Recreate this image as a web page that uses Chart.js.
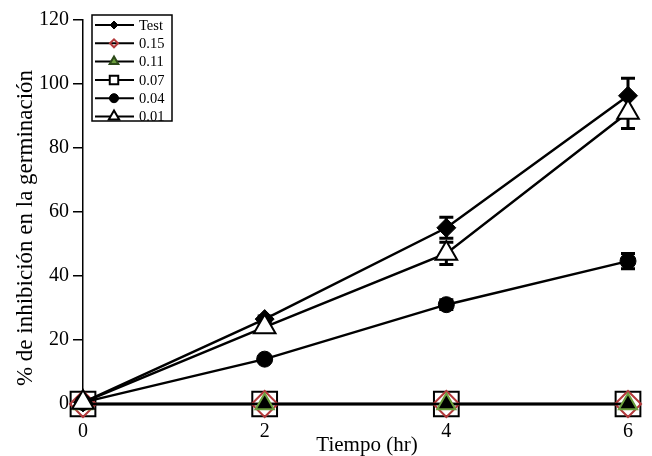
<!DOCTYPE html>
<html>
<head>
<meta charset="utf-8">
<script src="https://cdn.jsdelivr.net/npm/chart.js@4.4.1/dist/chart.umd.min.js"></script>
<style>
  body { margin: 0; background: #fff; }
  #wrap { width: 652px; height: 456px; }
</style>
</head>
<body>
<div id="wrap"><canvas id="chart"></canvas></div>
<script>
// data
const times = [0, 2, 4, 6];
const labels = ['Test', '0.15', '0.11', '0.07', '0.04', '0.01'];
const testVals = [0.5, 26.5, 55, 96.2];
const testErr = [0, 1, 3.3, 5.5];
const c015Vals = [0, 0, 0, 0];
const c011Vals = [0, 0, 0, 0];
const c007Vals = [0, 0, 0, 0];
const c004Vals = [0.5, 14, 31, 44.6];
const c004Err = [0, 0.8, 1.5, 2.4];
const c001Vals = [0.5, 24, 47, 91];
const c001Err = [0, 1, 3.5, 5];
const yTicks = [0, 20, 40, 60, 80, 100, 120];
const xTitle = 'Tiempo (hr)';
const yTitle = '% de inhibición en la germinación';

const RED = '#b3393b';
const GREEN = '#6c9f3d';
const FONT = 'Liberation Serif';

function pts(vals) {
  return times.map((t, i) => ({ x: t, y: vals[i] }));
}

// marker styles, used both for the plot and the legend
const styles = [
  { style: 'rectRot', r: 9.5, lr: 4, fill: '#000', stroke: '#000', bw: 1 },
  { style: 'rectRot', r: 13, lr: 4, fill: 'rgba(0,0,0,0)', stroke: RED, bw: 2 },
  { style: 'triangle', r: 10.5, lr: 5, fill: '#000', stroke: GREEN, bw: 2, lfill: GREEN, lstroke: '#2d4a1a' },
  { style: 'rect', r: 17.5, lr: 6, fill: '#fff', stroke: '#000', bw: 2 },
  { style: 'circle', r: 8, lr: 4.5, fill: '#000', stroke: '#000', bw: 1 },
  { style: 'triangle', r: 12.5, lr: 6, fill: '#fff', stroke: '#000', bw: 2 }
];
const series = [testVals, c015Vals, c011Vals, c007Vals, c004Vals, c001Vals];
const errs = [testErr, null, null, null, c004Err, c001Err];
const orders = [1, 4, 3, 5, 2, 0];

const datasets = series.map((vals, i) => ({
  label: labels[i],
  data: pts(vals),
  errors: errs[i],
  order: orders[i],
  borderColor: '#000',
  borderWidth: 2.5,
  pointStyle: styles[i].style,
  pointRadius: styles[i].r,
  pointBackgroundColor: styles[i].fill,
  pointBorderColor: styles[i].stroke,
  pointBorderWidth: styles[i].bw,
  tension: 0,
  clip: false
}));

const errorBars = {
  id: 'errorBars',
  beforeDatasetsDraw(chart) {
    const ctx = chart.ctx;
    const yScale = chart.scales.y;
    ctx.save();
    ctx.strokeStyle = '#000';
    ctx.lineWidth = 3;
    chart.data.datasets.forEach((ds, di) => {
      if (!ds.errors) return;
      const meta = chart.getDatasetMeta(di);
      meta.data.forEach((p, i) => {
        const e = ds.errors[i];
        if (!e) return;
        const v = ds.data[i].y;
        const top = yScale.getPixelForValue(v + e);
        const bot = yScale.getPixelForValue(v - e);
        ctx.beginPath();
        ctx.moveTo(p.x, top); ctx.lineTo(p.x, bot);
        ctx.moveTo(p.x - 7, top); ctx.lineTo(p.x + 7, top);
        ctx.moveTo(p.x - 7, bot); ctx.lineTo(p.x + 7, bot);
        ctx.stroke();
      });
    });
    ctx.restore();
  }
};

// axis titles drawn by hand so they sit where the original has them
const axisTitles = {
  id: 'axisTitles',
  afterDraw(chart) {
    const ctx = chart.ctx;
    ctx.save();
    ctx.fillStyle = '#000';
    ctx.textAlign = 'center';
    ctx.textBaseline = 'alphabetic';
    ctx.font = '21px "' + FONT + '"';
    ctx.fillText(xTitle, 367, 451);
    ctx.translate(32, 228);
    ctx.rotate(-Math.PI / 2);
    ctx.font = '23px "' + FONT + '"';
    ctx.fillText(yTitle, 0, 0);
    ctx.restore();
  }
};

const boxLegend = {
  id: 'boxLegend',
  afterDraw(chart) {
    const ctx = chart.ctx;
    const x0 = 92, y0 = 15, w = 80, h = 106;
    ctx.save();
    ctx.fillStyle = '#fff';
    ctx.fillRect(x0, y0, w, h);
    ctx.strokeStyle = '#000';
    ctx.lineWidth = 1.5;
    ctx.strokeRect(x0, y0, w, h);
    ctx.font = '14.5px "' + FONT + '"';
    ctx.textBaseline = 'middle';
    labels.forEach((lab, i) => {
      const y = 25 + i * 18.3;
      ctx.strokeStyle = '#000';
      ctx.lineWidth = 2;
      ctx.beginPath();
      ctx.moveTo(95, y); ctx.lineTo(134, y);
      ctx.stroke();
      const s = styles[i];
      ctx.fillStyle = s.lfill || s.fill;
      ctx.strokeStyle = s.lstroke || s.stroke;
      ctx.lineWidth = s.bw;
      Chart.helpers.drawPoint(ctx, { pointStyle: s.style, radius: s.lr, rotation: 0, borderWidth: s.bw }, 114, y);
      ctx.fillStyle = '#000';
      ctx.fillText(lab, 139, y + 1);
    });
    ctx.restore();
  }
};

new Chart(document.getElementById('chart'), {
  type: 'line',
  data: { datasets },
  options: {
    responsive: true,
    maintainAspectRatio: false,
    animation: false,
    layout: { padding: { top: 16, right: 24, left: 0, bottom: 0 } },
    plugins: { legend: { display: false }, tooltip: { enabled: false } },
    scales: {
      x: {
        type: 'linear',
        min: 0, max: 6,
        afterBuildTicks: (scale) => { scale.ticks = times.map(v => ({ value: v })); },
        afterFit: (scale) => { scale.height = 52; },
        border: { display: true, color: '#000', width: 1.5 },
        grid: { display: false },
        ticks: { color: '#000', font: { family: FONT, size: 20 }, padding: 8 }
      },
      y: {
        min: 0, max: 120,
        afterBuildTicks: (scale) => { scale.ticks = yTicks.map(v => ({ value: v })); },
        afterFit: (scale) => { scale.width = 83; },
        border: { display: true, color: '#000', width: 1.5 },
        grid: { drawOnChartArea: false, drawTicks: true, tickLength: 10, color: '#000', lineWidth: 1.5 },
        ticks: { color: '#000', font: { family: FONT, size: 20 }, padding: 4 }
      }
    }
  },
  plugins: [errorBars, axisTitles, boxLegend]
});
</script>
</body>
</html>
